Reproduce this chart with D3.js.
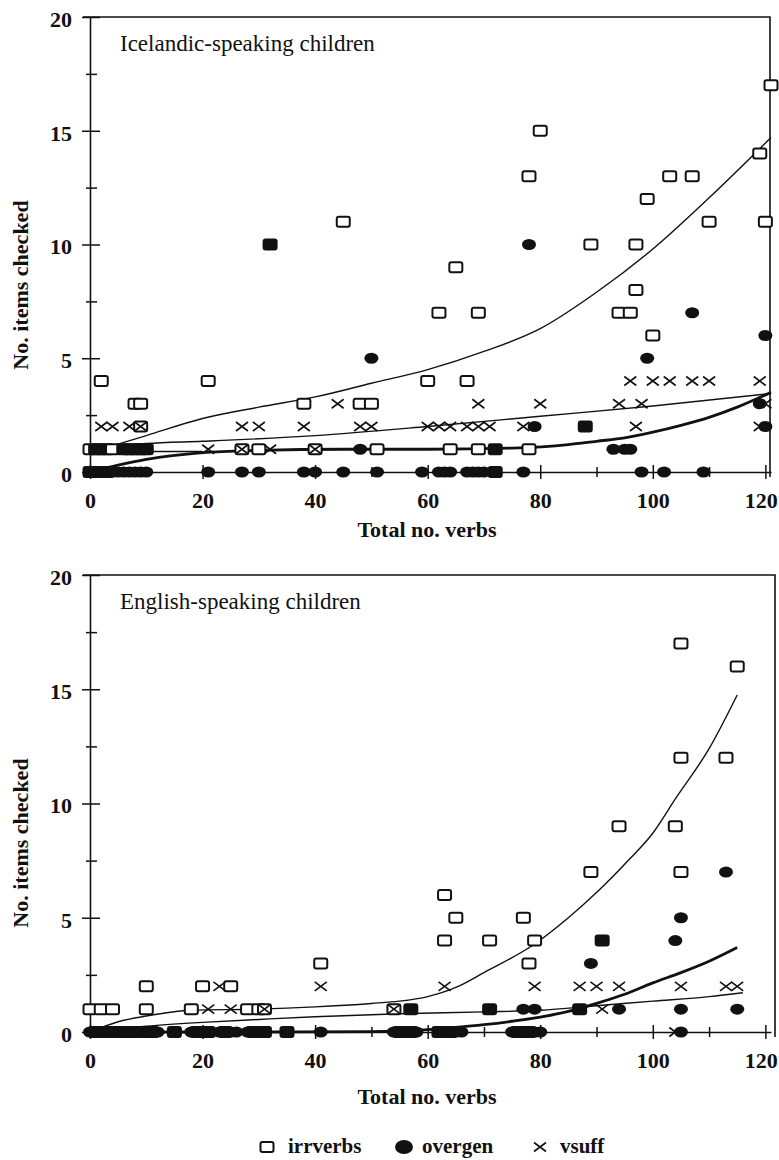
<!DOCTYPE html>
<html>
<head>
<meta charset="utf-8">
<script src="https://cdn.jsdelivr.net/npm/d3@7"></script>
<style>
  body { margin: 0; background: #fff; }
  svg text { font-family: 'Liberation Serif', 'Times New Roman', serif; fill: #111; }
</style>
</head>
<body>
<script>
// Icelandic-speaking children: [total verbs, items checked]
const iceIrrverbs = [
  [121, 17], [80, 15], [119, 14], [78, 13], [103, 13], [107, 13], [99, 12], [45, 11], [110, 11], [120, 11],
  [89, 10], [97, 10], [32, 10], [65, 9], [97, 8], [62, 7], [69, 7], [94, 7], [96, 7], [100, 6],
  [2, 4], [21, 4], [60, 4], [67, 4], [8, 3], [9, 3], [38, 3], [48, 3], [50, 3], [9, 2], [88, 2],
  [0, 1], [1, 1], [2, 1], [3, 1], [4, 1], [6, 1], [7, 1], [8, 1], [9, 1], [10, 1],
  [27, 1], [30, 1], [40, 1], [51, 1], [64, 1], [69, 1], [72, 1], [78, 1],
  [0, 0], [1, 0], [2, 0], [3, 0], [72, 0],
];
const iceOvergen = [
  [32, 10], [78, 10], [107, 7], [120, 6], [50, 5], [99, 5], [119, 3], [79, 2], [88, 2], [120, 2],
  [1, 1], [2, 1], [3, 1], [6, 1], [7, 1], [8, 1], [9, 1], [10, 1], [48, 1], [72, 1], [93, 1], [95, 1], [96, 1],
  [0, 0], [1, 0], [2, 0], [3, 0], [4, 0], [5, 0], [6, 0], [7, 0], [8, 0], [9, 0], [10, 0],
  [21, 0], [27, 0], [30, 0], [38, 0], [40, 0], [45, 0], [51, 0], [59, 0], [62, 0], [63, 0], [64, 0],
  [67, 0], [68, 0], [69, 0], [70, 0], [72, 0], [77, 0], [98, 0], [102, 0], [109, 0],
];
const iceVsuff = [
  [96, 4], [100, 4], [103, 4], [107, 4], [110, 4], [119, 4],
  [44, 3], [69, 3], [80, 3], [94, 3], [98, 3], [120, 3],
  [2, 2], [4, 2], [7, 2], [9, 2], [27, 2], [30, 2], [38, 2], [48, 2], [50, 2], [60, 2], [62, 2],
  [64, 2], [67, 2], [69, 2], [71, 2], [77, 2], [97, 2], [119, 2],
  [21, 1], [27, 1], [32, 1], [40, 1],
];

// fitted curves
const iceIrrFit = [[2, 1.0], [10, 1.6], [20, 2.35], [30, 2.85], [40, 3.3], [50, 3.9], [60, 4.5], [70, 5.3],
  [80, 6.3], [90, 7.9], [100, 9.8], [110, 12.05], [121, 14.7]];
const iceVsuffFit = [[4, 1.1], [10, 1.25], [20, 1.35], [40, 1.6], [60, 2.0], [80, 2.45], [100, 2.9], [121, 3.45]];
const iceOvergenFit = [[0, 0], [5, 0.3], [10, 0.55], [20, 0.85], [30, 0.95], [45, 1.0], [60, 1.0], [75, 1.05],
  [85, 1.2], [90, 1.35], [95, 1.5], [100, 1.75], [105, 2.05], [110, 2.4], [115, 2.85], [121, 3.5]];
const iceFlatFit = [[0, 0.9], [20, 0.9]];

// English-speaking children
const engIrrverbs = [
  [105, 17], [115, 16], [105, 12], [113, 12], [94, 9], [104, 9], [89, 7], [105, 7], [63, 6], [65, 5], [77, 5],
  [63, 4], [71, 4], [79, 4], [91, 4], [41, 3], [78, 3], [10, 2], [20, 2], [25, 2],
  [0, 1], [2, 1], [4, 1], [10, 1], [18, 1], [28, 1], [30, 1], [31, 1], [54, 1], [57, 1], [71, 1], [87, 1],
  [1, 0], [2, 0], [3, 0], [5, 0], [7, 0], [9, 0], [11, 0], [15, 0], [19, 0], [21, 0], [24, 0], [29, 0],
  [31, 0], [35, 0], [55, 0], [57, 0], [62, 0], [64, 0], [76, 0], [78, 0],
];
const engOvergen = [
  [113, 7], [105, 5], [104, 4], [91, 4], [89, 3],
  [57, 1], [71, 1], [77, 1], [79, 1], [87, 1], [94, 1], [105, 1], [115, 1],
  [0, 0], [1, 0], [2, 0], [3, 0], [4, 0], [5, 0], [6, 0], [7, 0], [8, 0], [9, 0], [10, 0], [11, 0], [12, 0],
  [15, 0], [18, 0], [19, 0], [20, 0], [21, 0], [23, 0], [24, 0], [25, 0], [26, 0], [28, 0], [29, 0], [30, 0],
  [31, 0], [35, 0], [41, 0], [54, 0], [55, 0], [56, 0], [57, 0], [58, 0], [62, 0], [63, 0], [64, 0], [65, 0],
  [66, 0], [75, 0], [76, 0], [77, 0], [78, 0], [79, 0], [80, 0], [105, 0],
];
const engVsuff = [
  [23, 2], [41, 2], [63, 2], [79, 2], [87, 2], [90, 2], [94, 2], [105, 2], [113, 2], [115, 2],
  [21, 1], [25, 1], [31, 1], [54, 1], [91, 1], [104, 0],
];

const engIrrFit = [[0, 0], [5, 0.45], [10, 0.7], [18, 0.95], [30, 1.0], [40, 1.1], [50, 1.25], [55, 1.35],
  [60, 1.55], [65, 1.95], [70, 2.6], [79, 3.85], [85, 5.0], [90, 6.1], [96, 7.6], [100, 8.7], [104, 10.2],
  [110, 12.4], [115, 14.75]];
const engVsuffFit = [[0, 0], [10, 0.25], [20, 0.42], [30, 0.55], [40, 0.67], [55, 0.8], [70, 0.88],
  [80, 0.95], [90, 1.15], [100, 1.35], [110, 1.55], [116, 1.72]];
const engOvergenFit = [[0, 0], [30, 0], [50, 0.02], [55, 0.05], [60, 0.1], [65, 0.2], [70, 0.32], [75, 0.47],
  [80, 0.65], [85, 0.9], [90, 1.25], [95, 1.65], [100, 2.15], [105, 2.6], [110, 3.1], [115, 3.7]];

const xTicks = [0, 20, 40, 60, 80, 100, 120];
const yTicks = [0, 5, 10, 15, 20];
const legendNames = ['irrverbs', 'overgen', 'vsuff'];

const ink = '#111';

const svg = d3.select('body').append('svg')
  .attr('width', 779)
  .attr('height', 1160);

const x = d3.scaleLinear().domain([0, 121]).range([90, 771]);

const square = (g, fill) => g.append('rect')
  .attr('x', -6.5).attr('y', -5).attr('width', 13).attr('height', 10)
  .attr('rx', 2)
  .attr('fill', fill)
  .attr('stroke', ink)
  .attr('stroke-width', 2);

const dot = g => g.append('ellipse')
  .attr('rx', 7).attr('ry', 5.5)
  .attr('fill', ink);

const cross = g => g.append('path')
  .attr('d', 'M-6,-4.5L6,4.5M-6,4.5L6,-4.5')
  .attr('stroke', ink)
  .attr('stroke-width', 1.6)
  .attr('fill', 'none');

function drawPanel(p) {
  const y = d3.scaleLinear().domain([0, 20]).range([p.bottom, p.top]);
  const g = svg.append('g');
  const key = d => d[0] + ',' + d[1];
  const irrKeys = new Set(p.irr.map(key));
  const overKeys = new Set(p.over.map(key));

  // frame (top and right)
  g.append('path')
    .attr('d', `M83,${p.top}H${p.right}V${p.bottom + 5}`)
    .attr('fill', 'none')
    .attr('stroke', ink)
    .attr('stroke-width', 1.6);

  // y axis, ticks crossing the line
  const yAxis = g.append('g')
    .attr('transform', 'translate(90,0)')
    .call(d3.axisLeft(y)
      .tickValues(d3.range(0, 20.1, 2.5))
      .tickSizeOuter(0)
      .tickFormat(d => (yTicks.includes(d) ? d : '')));
  yAxis.select('.domain').attr('stroke', ink).attr('stroke-width', 1.6);
  yAxis.selectAll('.tick line')
    .attr('stroke', ink)
    .attr('stroke-width', 1.5)
    .attr('x1', d => (d % 5 === 0 ? -8 : -4))
    .attr('x2', d => (d % 5 === 0 ? 10 : 7));
  yAxis.selectAll('.tick text')
    .attr('x', -18)
    .attr('dy', '0.42em')
    .attr('font-size', 22)
    .attr('font-weight', 'bold');
  yAxis.attr('font-family', null).attr('font-size', null);

  // x axis along y = 0
  const xAxis = g.append('g')
    .attr('transform', `translate(0,${p.bottom})`)
    .call(d3.axisBottom(x)
      .tickValues(d3.range(0, 121, 10))
      .tickSizeOuter(0)
      .tickFormat(d => (xTicks.includes(d) ? d : '')));
  xAxis.select('.domain').attr('stroke', ink).attr('stroke-width', 1.6);
  xAxis.selectAll('.tick line')
    .attr('stroke', ink)
    .attr('stroke-width', 1.5)
    .attr('y1', d => (d % 20 === 0 ? -7 : -5))
    .attr('y2', d => (d % 20 === 0 ? 7 : 5));
  xAxis.selectAll('.tick text')
    .attr('y', 36)
    .attr('dy', 0)
    .attr('font-size', 22)
    .attr('font-weight', 'bold');
  // last label sits against the page edge
  xAxis.selectAll('.tick text')
    .filter(d => d === 120)
    .attr('text-anchor', 'end')
    .attr('x', 12);
  xAxis.attr('font-family', null).attr('font-size', null);

  // fitted curves
  const line = d3.line()
    .x(d => x(d[0]))
    .y(d => y(d[1]))
    .curve(d3.curveMonotoneX);
  p.fits.forEach(f => {
    g.append('path')
      .attr('d', line(f.data))
      .attr('fill', 'none')
      .attr('stroke', ink)
      .attr('stroke-width', f.thick ? 2.8 : 1.4);
  });

  // irrverbs: filled when an overgen point sits on the same spot
  g.selectAll('.irr')
    .data(p.irr)
    .enter()
    .append('g')
    .attr('transform', d => `translate(${x(d[0])},${y(d[1])})`)
    .each(function (d) {
      square(d3.select(this), overKeys.has(key(d)) ? ink : '#fff');
    });

  g.selectAll('.over')
    .data(p.over.filter(d => !irrKeys.has(key(d))))
    .enter()
    .append('g')
    .attr('transform', d => `translate(${x(d[0])},${y(d[1])})`)
    .each(function () { dot(d3.select(this)); });

  g.selectAll('.vsuff')
    .data(p.vsuff)
    .enter()
    .append('g')
    .attr('transform', d => `translate(${x(d[0])},${y(d[1])})`)
    .each(function () { cross(d3.select(this)); });

  // texts
  g.append('text')
    .attr('x', 120)
    .attr('y', p.top + 34)
    .attr('font-size', 23)
    .text(p.title);

  g.append('text')
    .attr('x', 427)
    .attr('y', p.xLabelY)
    .attr('text-anchor', 'middle')
    .attr('font-size', 22)
    .attr('font-weight', 'bold')
    .text('Total no. verbs');

  g.append('text')
    .attr('transform', `translate(28,${p.top + 268}) rotate(-90)`)
    .attr('text-anchor', 'middle')
    .attr('font-size', 22)
    .attr('font-weight', 'bold')
    .text('No. items checked');
}

drawPanel({
  title: 'Icelandic-speaking children',
  top: 17,
  bottom: 472,
  right: 770,
  xLabelY: 537,
  irr: iceIrrverbs,
  over: iceOvergen,
  vsuff: iceVsuff,
  fits: [
    { data: iceIrrFit },
    { data: iceVsuffFit },
    { data: iceFlatFit },
    { data: iceOvergenFit, thick: true },
  ],
});

drawPanel({
  title: 'English-speaking children',
  top: 575,
  bottom: 1032,
  right: 775,
  xLabelY: 1104,
  irr: engIrrverbs,
  over: engOvergen,
  vsuff: engVsuff,
  fits: [
    { data: engIrrFit },
    { data: engVsuffFit },
    { data: engOvergenFit, thick: true },
  ],
});

// legend
const legendX = [260, 395, 533];
const legend = svg.append('g');
legendNames.forEach((name, i) => {
  const item = legend.append('g')
    .attr('transform', `translate(${legendX[i]},1147)`);
  const mark = item.append('g').attr('transform', 'translate(7,0)');
  if (i === 0) square(mark, '#fff');
  if (i === 1) mark.append('ellipse').attr('cx', 2).attr('rx', 9).attr('ry', 7).attr('fill', ink);
  if (i === 2) cross(mark);
  item.append('text')
    .attr('x', i === 0 ? 28 : 27)
    .attr('y', 6)
    .attr('font-size', 21)
    .attr('font-weight', 'bold')
    .text(name);
});
</script>
</body>
</html>
